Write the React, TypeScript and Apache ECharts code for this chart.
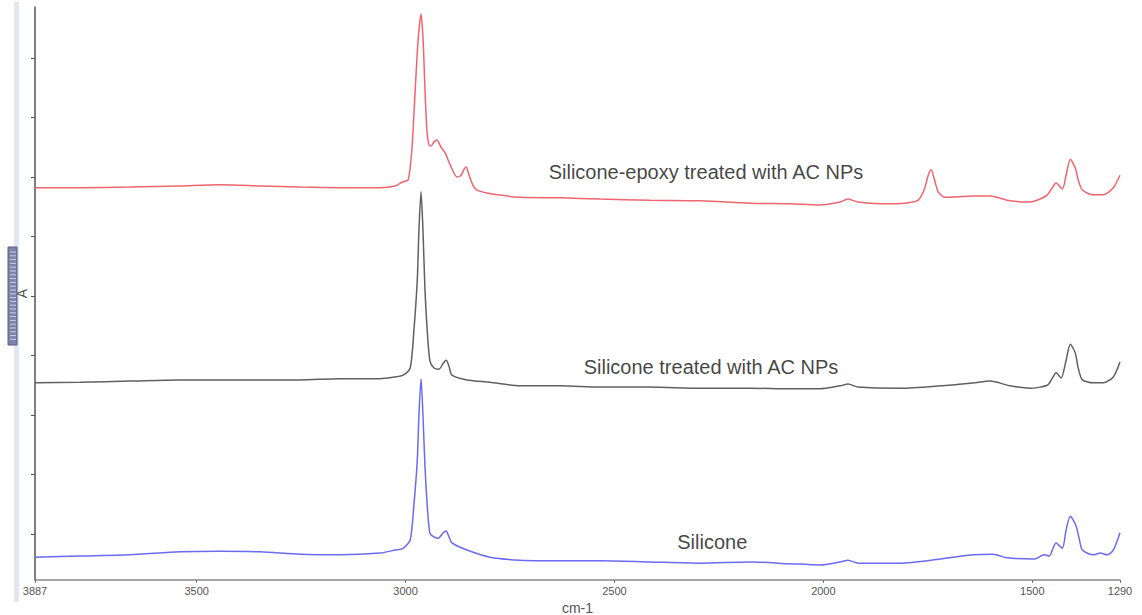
import React, { useEffect, useRef } from "react";
import * as echarts from "echarts";

// wavenumber (cm-1) ticks
const xTickValues = [3887, 3500, 3000, 2500, 2000, 1500, 1290];
const yTickValues = [0, 0.1, 0.2, 0.3, 0.4, 0.5, 0.6, 0.7, 0.8];

// Silicone-epoxy treated with AC NPs  [cm-1, A]
const epoxyAC: [number, number][] = [
  [3887, 0.582], [3779, 0.582], [3660, 0.583], [3540, 0.585], [3444, 0.587],
  [3348, 0.585], [3253, 0.583], [3157, 0.582], [3061, 0.582], [3025, 0.585],
  [3006, 0.592], [2994, 0.595], [2985, 0.645], [2977, 0.746], [2970, 0.83],
  [2963, 0.874], [2958, 0.83], [2954, 0.755], [2949, 0.679], [2944, 0.654],
  [2939, 0.652], [2932, 0.659], [2925, 0.662], [2915, 0.65], [2905, 0.64],
  [2893, 0.62], [2877, 0.6], [2867, 0.603], [2860, 0.613], [2855, 0.617],
  [2848, 0.603], [2838, 0.585], [2829, 0.578], [2805, 0.573], [2781, 0.57],
  [2726, 0.566], [2630, 0.565], [2535, 0.563], [2415, 0.561], [2295, 0.56],
  [2175, 0.556], [2080, 0.555], [2008, 0.553], [1960, 0.558], [1941, 0.563],
  [1917, 0.558], [1864, 0.555], [1804, 0.556], [1773, 0.561], [1759, 0.578],
  [1749, 0.603], [1742, 0.612], [1735, 0.598], [1725, 0.575], [1709, 0.566],
  [1641, 0.568], [1601, 0.568], [1553, 0.56], [1505, 0.558], [1481, 0.563],
  [1464, 0.57], [1452, 0.582], [1443, 0.59], [1428, 0.58], [1419, 0.603],
  [1409, 0.63], [1397, 0.615], [1390, 0.595], [1380, 0.578], [1354, 0.57],
  [1330, 0.57], [1306, 0.582], [1290, 0.603],
];

// Silicone treated with AC NPs
const siliconeAC: [number, number][] = [
  [3887, 0.254], [3779, 0.255], [3660, 0.257], [3540, 0.259], [3444, 0.259],
  [3348, 0.259], [3253, 0.259], [3157, 0.261], [3061, 0.261], [3025, 0.264],
  [3006, 0.267], [2989, 0.279], [2980, 0.343], [2972, 0.427], [2968, 0.511],
  [2963, 0.575], [2958, 0.503], [2954, 0.418], [2949, 0.351], [2942, 0.292],
  [2932, 0.279], [2920, 0.277], [2910, 0.287], [2903, 0.292], [2896, 0.282],
  [2889, 0.267], [2853, 0.259], [2798, 0.255], [2726, 0.249], [2630, 0.249],
  [2535, 0.247], [2415, 0.247], [2295, 0.245], [2175, 0.245], [2080, 0.244],
  [2008, 0.244], [1960, 0.249], [1941, 0.252], [1917, 0.247], [1816, 0.245],
  [1720, 0.249], [1641, 0.254], [1601, 0.257], [1553, 0.249], [1505, 0.245],
  [1464, 0.25], [1452, 0.262], [1443, 0.271], [1431, 0.262], [1419, 0.292],
  [1409, 0.319], [1397, 0.304], [1390, 0.279], [1380, 0.259], [1354, 0.254],
  [1330, 0.254], [1306, 0.264], [1290, 0.289],
];

// Silicone
const silicone: [number, number][] = [
  [3887, -0.039], [3779, -0.037], [3660, -0.035], [3540, -0.03], [3444, -0.029],
  [3348, -0.03], [3253, -0.034], [3157, -0.035], [3061, -0.032], [3025, -0.027],
  [3006, -0.024], [2989, -0.01], [2980, 0.049], [2972, 0.124], [2968, 0.2],
  [2963, 0.261], [2958, 0.192], [2954, 0.121], [2949, 0.057], [2942, 0.002],
  [2932, -0.005], [2922, -0.007], [2910, 0.002], [2903, 0.005], [2896, -0.005],
  [2889, -0.015], [2853, -0.027], [2798, -0.039], [2726, -0.044], [2630, -0.045],
  [2535, -0.045], [2415, -0.047], [2295, -0.049], [2175, -0.047], [2080, -0.05],
  [2008, -0.052], [1960, -0.047], [1941, -0.044], [1917, -0.049], [1816, -0.049],
  [1720, -0.042], [1641, -0.035], [1594, -0.034], [1560, -0.04], [1495, -0.042],
  [1471, -0.035], [1459, -0.037], [1452, -0.027], [1443, -0.015], [1428, -0.024],
  [1419, 0.007], [1409, 0.03], [1395, 0.013], [1387, -0.01], [1380, -0.027],
  [1354, -0.035], [1337, -0.032], [1321, -0.035], [1306, -0.027], [1290, 0.002],
];

// text annotations [label, cm-1, A]
const annotations: [string, number, number][] = [
  ["Silicone-epoxy treated with AC NPs", 2281, 0.608],
  ["Silicone treated with AC NPs", 2269, 0.281],
  ["Silicone", 2266, -0.013],
];

const seriesNames = ["Silicone-epoxy treated with AC NPs", "Silicone treated with AC NPs", "Silicone"];
const seriesColors = ["#f0646e", "#606060", "#6b6bf2"];

export default function App() {
  const ref = useRef<HTMLDivElement>(null);
  useEffect(() => {
    if (!ref.current) return;
    const chart = echarts.init(ref.current, undefined, { renderer: "svg" });
    const datasets = [epoxyAC, siliconeAC, silicone];
    const handleLines: any[] = [];
    for (let i = 0; i < 24; i++) {
      handleLines.push({
        type: "line",
        shape: { x1: 10, y1: 252 + i * 3.8, x2: 16, y2: 252 + i * 3.8 },
        style: { stroke: "#c9cde0", lineWidth: 1 },
        silent: true,
      });
    }
    chart.setOption({
      animation: false,
      backgroundColor: "#ffffff",
      grid: { left: 35, right: 22, top: 7, bottom: 35, containLabel: false, outerBoundsMode: "none" },
      xAxis: {
        type: "value",
        inverse: true,
        min: 1290,
        max: 3887,
        name: "cm-1",
        nameLocation: "middle",
        nameGap: 19,
        nameTextStyle: { color: "#555", fontSize: 14, fontFamily: "Liberation Sans, Arial, sans-serif" },
        axisLine: { show: true, onZero: false, lineStyle: { color: "#8a8a8a", width: 1.5 } },
        axisTick: { show: true, customValues: xTickValues, length: 3, lineStyle: { color: "#777" } },
        axisLabel: {
          show: true,
          customValues: xTickValues,
          formatter: (v: number) => String(v),
          color: "#555",
          fontSize: 11,
          margin: 5,
          fontFamily: "Liberation Sans, Arial, sans-serif",
          showMinLabel: true,
          showMaxLabel: true,
        },
        splitLine: { show: false },
      },
      yAxis: {
        type: "value",
        min: -0.0773,
        max: 0.8857,
        name: "A",
        nameLocation: "middle",
        nameGap: 6,
        nameRotate: 90,
        nameTextStyle: { color: "#555", fontSize: 14, fontFamily: "Liberation Sans, Arial, sans-serif" },
        axisLine: { show: true, onZero: false, lineStyle: { color: "#555", width: 1.5 } },
        axisTick: { show: true, customValues: yTickValues, length: 4, lineStyle: { color: "#555" } },
        axisLabel: { show: false },
        splitLine: { show: false },
      },
      graphic: [
        { type: "rect", shape: { x: 14, y: 2, width: 5, height: 600 }, style: { fill: "#e3e6f0" }, silent: true },
        {
          type: "rect",
          shape: { x: 8, y: 247, width: 9, height: 98 },
          style: { fill: "#7c84aa", stroke: "#59618a", lineWidth: 1 },
          silent: true,
        },
        ...handleLines,
      ],
      series: [
        ...datasets.map((d, i) => ({
          type: "line",
          name: seriesNames[i],
          data: d,
          showSymbol: false,
          smooth: 0.25,
          lineStyle: { color: seriesColors[i], width: 1.5 },
          itemStyle: { color: seriesColors[i] },
          silent: true,
          z: 3,
        })),
        {
          type: "scatter",
          data: annotations.map((a) => ({ value: [a[1], a[2]], name: a[0] })),
          symbolSize: 0,
          silent: true,
          label: {
            show: true,
            position: "inside",
            formatter: (p: any) => p.name,
            color: "#111",
            fontSize: 20,
            fontFamily: "Liberation Sans, Arial, sans-serif",
          },
        },
      ],
    });
    return () => chart.dispose();
  }, []);
  return (
    <div
      ref={ref}
      style={{ position: "fixed", left: 0, top: 0, width: 1142, height: 615, background: "#fff" }}
    />
  );
}
